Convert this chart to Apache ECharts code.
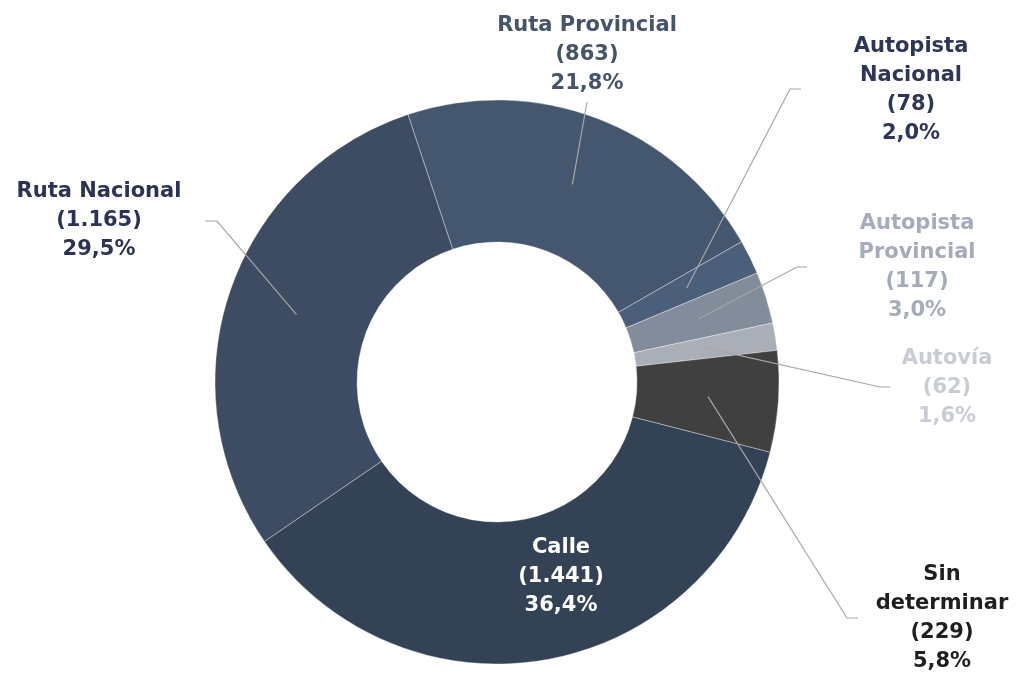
<!DOCTYPE html>
<html>
<head>
<meta charset="utf-8">
<script src="https://cdn.jsdelivr.net/npm/echarts@6/dist/echarts.min.js"></script>
<style>
  html, body { margin: 0; padding: 0; background: #ffffff; }
  #main { width: 1019px; height: 673px; }
</style>
</head>
<body>
<div id="main"></div>
<script>
// datos
const categories = ['Calle', 'Ruta Nacional', 'Ruta Provincial', 'Autopista\nNacional', 'Autopista\nProvincial', 'Autovía', 'Sin\ndeterminar']
const values = [1441, 1165, 863, 78, 117, 62, 229]
const sliceColors = ['#344256', '#3d4c63', '#45566f', '#4b5e7a', '#838c9a', '#a9aeb7', '#404040']
const labelColors = ['#ffffff', '#2a3256', '#44546a', '#2d365a', '#a4acbc', '#c8ccd3', '#1f1f1f']

const cx = 497
const cy = 382
const rOuter = 282
const rInner = 140

// posición de etiquetas: centro x, centro de la primera línea y; codo y fin de la línea guía
const labelPos = [
  { x: 561, y: 548 },
  { x: 99, y: 192, elbow: [217, 221], end: [205, 221] },
  { x: 587, y: 26, elbow: [587, 102], end: [587, 102] },
  { x: 911, y: 47, elbow: [790, 89], end: [801, 89] },
  { x: 917, y: 224, elbow: [797, 267], end: [807, 267] },
  { x: 947, y: 359, elbow: [880, 387], end: [890, 387] },
  { x: 942, y: 575, elbow: [847, 618], end: [858, 618] }
]

const total = values.reduce((a, b) => a + b, 0)
const startAngle = -14.4

// inicio de la línea guía: 3/4 del radio, en el ángulo medio del sector
function innerPoint (i) {
  let before = 0
  for (let k = 0; k < i; k++) before += values[k]
  const mid = startAngle - (before + values[i] / 2) / total * 360
  const rad = mid * Math.PI / 180
  return [cx + Math.cos(rad) * rOuter * 0.75, cy - Math.sin(rad) * rOuter * 0.75]
}

function fmtNum (v) {
  return String(v).replace(/\B(?=(\d{3})+(?!\d))/g, '.')
}

const myChart = echarts.init(document.getElementById('main'), null, { renderer: 'canvas' })

const baseSeries = {
  type: 'pie',
  z: 2,
  silent: true,
  center: [cx, cy],
  radius: [rInner, rOuter],
  startAngle: startAngle,
  clockwise: true,
  itemStyle: {
    borderColor: 'rgba(255,255,255,0.45)',
    borderWidth: 0.8
  },
  label: { show: false },
  labelLine: { show: false },
  data: categories.map((name, i) => ({
    name: name,
    value: values[i],
    itemStyle: { color: sliceColors[i] }
  }))
}

// serie transparente encima, solo para etiquetas y líneas guía
const labelSeries = {
  type: 'pie',
  z: 5,
  silent: true,
  center: [cx, cy],
  radius: [rInner, rOuter],
  startAngle: startAngle,
  clockwise: true,
  avoidLabelOverlap: false,
  itemStyle: { color: 'rgba(0,0,0,0)', borderWidth: 0 },
  label: {
    show: true,
    position: 'outside',
    fontFamily: '"DejaVu Sans", sans-serif',
    fontWeight: 'bold',
    fontSize: 21,
    lineHeight: 29,
    align: 'center',
    formatter: function (p) {
      return p.name + '\n(' + fmtNum(p.value) + ')\n' + (p.value / total * 100).toFixed(1).replace('.', ',') + '%'
    }
  },
  labelLine: {
    show: true,
    lineStyle: { color: '#a6a6a6', width: 1.2 }
  },
  labelLayout: function (params) {
    const i = params.dataIndex
    const pos = labelPos[i]
    const res = {
      x: pos.x,
      y: pos.y - 14.5,
      align: 'center',
      verticalAlign: 'top'
    }
    if (pos.elbow) {
      res.labelLinePoints = [innerPoint(i), pos.elbow, pos.end]
    }
    return res
  },
  data: categories.map((name, i) => ({
    name: name,
    value: values[i],
    label: { color: labelColors[i] },
    labelLine: { show: i !== 0 }
  }))
}

myChart.setOption({
  animation: false,
  backgroundColor: '#ffffff',
  series: [baseSeries, labelSeries]
})
</script>
</body>
</html>
